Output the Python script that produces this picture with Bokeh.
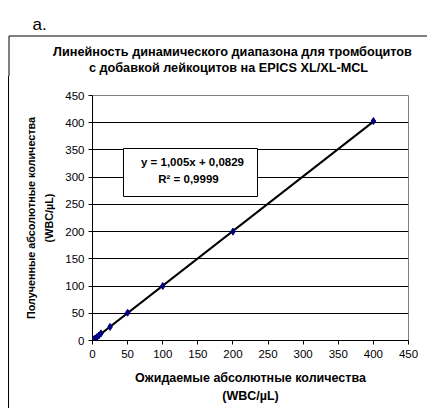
import numpy as np
from bokeh.plotting import figure
from bokeh.layouts import column, row
from bokeh.models import (Range1d, FixedTicker, Label, BoxAnnotation, Spacer)
from bokeh.embed import file_html
from bokeh.resources import INLINE

# ---- data ----
expected = [0, 1, 2, 3, 6, 9, 12, 25, 50, 100, 200, 400]
observed = [0, 1, 2, 3, 6, 9, 13, 25, 51, 100, 200, 403]
slope = [1.005]
intercept = [0.0829]
fit_x = [0, 400]
y_ticks = [0, 50, 100, 150, 200, 250, 300, 350, 400, 450]
x_ticks = [0, 50, 100, 150, 200, 250, 300, 350, 400, 450]
title_lines = ["Линейность динамического диапазона для тромбоцитов",
               "с добавкой лейкоцитов на EPICS XL/XL-MCL"]
x_label_lines = ["Ожидаемые абсолютные количества", "(WBC/µL)"]
y_label_lines = ["Полученные абсолютные количества", "(WBC/µL)"]
eq_lines = ["y = 1,005x + 0,0829", "R² = 0,9999"]
panel_tag = "a."

font = "Liberation Sans"
WIN_W, WIN_H = 427, 408
BOX_X, BOX_Y = 8, 35          # outer chart-area border (page px)
TOP_H = 76                     # header strip height (tag, border top, title)
FL, FR, FT, FB = 92, 408, 95, 340  # plot frame in page px

# ---- header strip: panel tag, outer border (top part), chart title ----
top = figure(width=WIN_W, height=TOP_H, output_backend="svg", toolbar_location=None,
             x_range=Range1d(0, WIN_W), y_range=Range1d(TOP_H, 0),
             x_axis_type=None, y_axis_type=None,
             min_border_left=0, min_border_right=0, min_border_top=0,
             min_border_bottom=0)
top.outline_line_color = None
top.grid.grid_line_color = None
top.background_fill_color = "white"
top.border_fill_color = "white"
top.add_layout(Label(x=32, y=24, text=panel_tag, text_align="left",
                     text_baseline="alphabetic", text_font=font,
                     text_font_size="17px", text_color="black"))
top.line([BOX_X + 0.5, BOX_X + 0.5, WIN_W + 5], [TOP_H + 5, BOX_Y + 0.5, BOX_Y + 0.5],
         line_color="black", line_width=1)
for txt, pxc, py in zip(title_lines, [232, 228], [51, 67.5]):
    top.add_layout(Label(x=pxc, y=py, text=txt, text_align="center",
                         text_baseline="middle", text_font=font,
                         text_font_size="12.7px", text_font_style="bold",
                         text_color="black"))

# ---- main chart ----
CX = BOX_X + 1
CW = WIN_W - CX
PH = WIN_H - TOP_H
p = figure(width=CW, height=PH, output_backend="svg", toolbar_location=None,
           x_range=Range1d(0, 450), y_range=Range1d(0, 450),
           min_border_left=FL - CX, min_border_right=CW - (FR - CX),
           min_border_top=FT - TOP_H, min_border_bottom=PH - (FB - TOP_H))
p.styles = {"border-left": "1px solid black"}
p.background_fill_color = "white"
p.border_fill_color = "white"
p.outline_line_color = "#808080"
p.outline_line_width = 1

def dx(px):
    return (px - FL) * 450.0 / (FR - FL)

def dy(py):
    return (FB - py) * 450.0 / (FB - FT)

for ax in (p.xaxis[0], p.yaxis[0]):
    ax.major_label_text_font = font
    ax.major_label_text_font_size = "11.5px"
    ax.major_label_text_color = "black"
    ax.axis_line_color = "black"
    ax.major_tick_line_color = "black"
    ax.minor_tick_line_color = None
    ax.major_tick_out = 4
    ax.major_tick_in = 0
    ax.axis_label_text_font = font
    ax.axis_label_text_font_style = "bold"
    ax.axis_label_text_color = "black"
p.xaxis.axis_label_text_font_size = "12.5px"
p.yaxis.axis_label_text_font_size = "10.8px"
p.xaxis.ticker = FixedTicker(ticks=x_ticks)
p.yaxis.ticker = FixedTicker(ticks=y_ticks)
p.xaxis.major_label_standoff = 5
p.yaxis.major_label_standoff = 4
p.xaxis.axis_label = "\n".join(x_label_lines)
p.yaxis.axis_label = "\n".join(y_label_lines)
p.xaxis.axis_label_text_line_height = 1.3
p.yaxis.axis_label_text_line_height = 1.55
p.xaxis.axis_label_standoff = 10
p.yaxis.axis_label_standoff = 7
p.xgrid.grid_line_color = None
p.ygrid.grid_line_color = "black"
p.ygrid.grid_line_width = 1
p.ygrid.ticker = FixedTicker(ticks=y_ticks[1:-1])

fit_y = [slope[0] * x + intercept[0] for x in fit_x]
p.line(fit_x, fit_y, line_color="black", line_width=2)
p.scatter(expected, observed, marker="diamond", size=7, fill_color="#000080",
          line_color="#000080")

p.add_layout(BoxAnnotation(left=dx(123), right=dx(257), top=dy(148), bottom=dy(196),
                           fill_color="white", fill_alpha=1, line_color="black",
                           line_alpha=1, line_width=1, level="overlay"))
for txt, py, pxc in zip(eq_lines, [161, 178], [192, 188]):
    p.add_layout(Label(x=dx(pxc), y=dy(py), text=txt, text_align="center",
                       text_baseline="middle", text_font=font,
                       text_font_size="11.5px", text_font_style="bold",
                       text_color="black", level="overlay"))

layout = column(top, row(Spacer(width=BOX_X, height=PH), p))
open("out.html", "w").write(file_html(layout, INLINE))
